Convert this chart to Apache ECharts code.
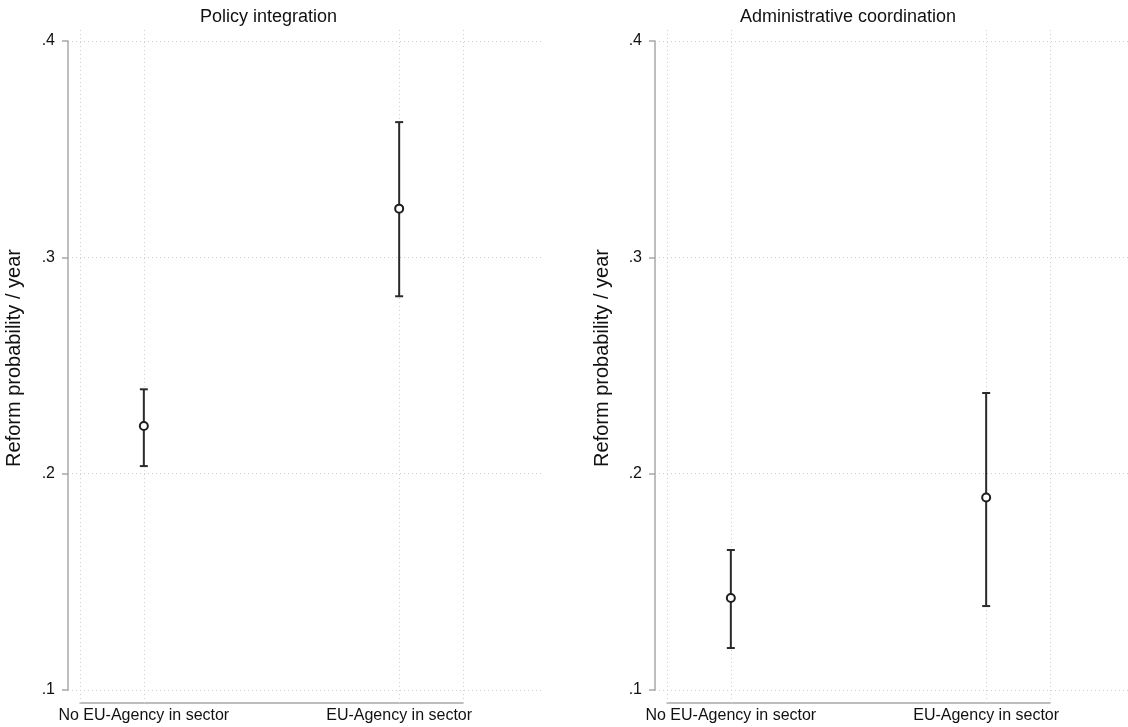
<!DOCTYPE html>
<html>
<head>
<meta charset="utf-8">
<script src="https://cdn.jsdelivr.net/npm/echarts@6/dist/echarts.min.js"></script>
<style>
html,body{margin:0;padding:0;background:#fff;}
#chart{width:1128px;height:727px;}
</style>
</head>
<body>
<div id="chart"></div>
<script>
// ---- data ----
const categories = ['No EU-Agency in sector', 'EU-Agency in sector'];
const xPositions = [0, 1];
const panelTitles = ['Policy integration', 'Administrative coordination'];
const yAxisTitle = 'Reform probability / year';
const yTicks = [0.1, 0.2, 0.3, 0.4];
const xGridValues = [-0.25, 0, 1, 1.25];

const policyEstimate = [0.222, 0.3225];
const policyLower = [0.2035, 0.282];
const policyUpper = [0.239, 0.3625];

const adminEstimate = [0.1425, 0.189];
const adminLower = [0.1194, 0.1388];
const adminUpper = [0.1647, 0.2373];

// ---- layout ----
const panelAxisX = [68, 655];
const plotTop = 41, plotHeight = 649, plotWidth = 473;
const outerTop = 30, outerBottom = 703;
const pxPerUnit = plotHeight / (yTicks[yTicks.length - 1] - yTicks[0]);
const yHi = yTicks[yTicks.length - 1] + (plotTop - outerTop) / pxPerUnit;
const yLo = yTicks[0] - (outerBottom - (plotTop + plotHeight)) / pxPerUnit;
const titleLeft = [195, 735];
const yTitlePos = [[14, 358], [602, 358]];

const FONT = 'Liberation Sans, Arial, Helvetica, sans-serif';
const panels = [
  {est: policyEstimate, lo: policyLower, hi: policyUpper},
  {est: adminEstimate, lo: adminLower, hi: adminUpper}
];

const grid = [], xAxis = [], yAxis = [], series = [], title = [], graphic = [];
panels.forEach((p, i) => {
  const ax = panelAxisX[i];
  grid.push({left: ax, top: plotTop, width: plotWidth, height: plotHeight});
  grid.push({left: ax + 12, top: outerTop, width: 383, height: outerBottom - outerTop});
  const gA = i * 2, gB = i * 2 + 1;
  xAxis.push({gridIndex: gA, type: 'value', min: 0, max: 1, show: false});
  yAxis.push({
    gridIndex: gA, type: 'value', min: 0.1, max: 0.4, interval: 0.1,
    axisLine: {show: true, lineStyle: {color: '#a8a8a8', width: 1.5}},
    axisTick: {show: true, length: 6, lineStyle: {color: '#a8a8a8', width: 1.5}},
    axisLabel: {margin: 13, fontFamily: FONT, fontSize: 16, color: '#111',
      formatter: v => v.toFixed(1).replace(/^0/, '')},
    splitLine: {show: true, lineStyle: {color: '#cfcfcf', type: [1, 3], width: 1}}
  });
  xAxis.push({
    gridIndex: gB, type: 'value', min: -0.25, max: 1.25, interval: 0.25,
    axisLine: {show: true, onZero: false, lineStyle: {color: '#a8a8a8', width: 1.5}},
    axisTick: {show: false},
    splitLine: {show: false},
    axisLabel: {margin: 5, fontFamily: FONT, fontSize: 16, color: '#111',
      showMinLabel: true, showMaxLabel: true,
      formatter: v => { const k = xPositions.indexOf(Math.round(v * 100) / 100); return k >= 0 ? categories[k] : ''; }}
  });
  yAxis.push({gridIndex: gB, type: 'value', min: yLo, max: yHi, show: false, splitLine: {show: false}});

  series.push({
    type: 'line', xAxisIndex: gB, yAxisIndex: gB, data: [], z: 1,
    markLine: {
      silent: true, symbol: 'none', label: {show: false}, animation: false,
      lineStyle: {color: '#cfcfcf', type: [1, 3], width: 1},
      data: xGridValues.map(v => ({xAxis: v}))
    }
  });
  const barData = xPositions.map((x, k) => [x, p.lo[k], p.hi[k]]);
  series.push({
    type: 'custom', xAxisIndex: gB, yAxisIndex: gB, data: barData, z: 5,
    renderItem: (params, api) => {
      const x = api.value(0);
      const t = api.coord([x, api.value(2)]);
      const b = api.coord([x, api.value(1)]);
      const w = 4;
      const st = {stroke: '#2a2a2a', lineWidth: 2};
      return {type: 'group', children: [
        {type: 'line', shape: {x1: t[0], y1: t[1], x2: b[0], y2: b[1]}, style: st},
        {type: 'line', shape: {x1: t[0] - w, y1: t[1], x2: t[0] + w, y2: t[1]}, style: st},
        {type: 'line', shape: {x1: b[0] - w, y1: b[1], x2: b[0] + w, y2: b[1]}, style: st}
      ]};
    }
  });
  series.push({
    type: 'scatter', xAxisIndex: gB, yAxisIndex: gB, z: 6,
    data: xPositions.map((x, k) => [x, p.est[k]]),
    symbol: 'circle', symbolSize: 8,
    itemStyle: {color: '#ffffff', borderColor: '#1e1e1e', borderWidth: 2, opacity: 1}
  });
  title.push({text: panelTitles[i], left: titleLeft[i], top: 3,
    textStyle: {fontFamily: FONT, fontSize: 18, fontWeight: 'normal', color: '#111'}});
  graphic.push({
    type: 'text', x: yTitlePos[i][0], y: yTitlePos[i][1], rotation: Math.PI / 2,
    style: {text: yAxisTitle, fontFamily: FONT, fontSize: 20, fill: '#111',
      align: 'center', verticalAlign: 'middle'}
  });
});

const chart = echarts.init(document.getElementById('chart'), null, {renderer: 'canvas'});
chart.setOption({
  backgroundColor: '#fff', animation: false,
  title, grid, xAxis, yAxis, series, graphic
});
</script>
</body>
</html>
